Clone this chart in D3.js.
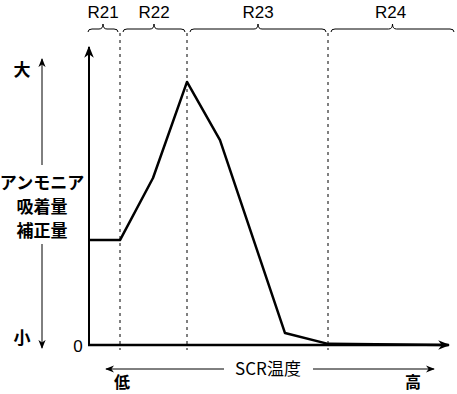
<!DOCTYPE html>
<html>
<head>
<meta charset="utf-8">
<script src="https://cdn.jsdelivr.net/npm/d3@7"></script>
<style>
  body { margin: 0; background: #fff; }
  text { font-family: "Noto Sans CJK JP", "Liberation Sans", sans-serif; fill: #000; }
</style>
</head>
<body>
<div></div>
<script>
const width = 457;
const height = 394;

// SCR temperature (arbitrary units) and ammonia adsorption correction (0-100)
const tempValues = [0, 31, 64, 98, 131, 196, 239, 359];
const corrValues = [36.8, 36.8, 58.6, 92.3, 71.9, 4.2, 0.4, 0];
const regionNames = ["R21", "R22", "R23", "R24"];
const regionBounds = [0, 31, 98, 239, 367];
const yLabelLines = ["アンモニア", "吸着量", "補正量"];

const x = d3.scaleLinear().domain([0, 360]).range([89, 449]);
const y = d3.scaleLinear().domain([0, 100]).range([345, 60]);

const svg = d3.select("div").append("svg")
  .attr("width", width)
  .attr("height", height);

const defs = svg.append("defs");
function marker(id, size) {
  defs.append("marker")
    .attr("id", id)
    .attr("viewBox", "0 0 10 10")
    .attr("refX", 9).attr("refY", 5)
    .attr("markerWidth", size).attr("markerHeight", size)
    .attr("markerUnits", "userSpaceOnUse")
    .attr("orient", "auto-start-reverse")
    .append("path")
    .attr("d", "M0,1 L10,5 L0,9 L3,5 Z")
    .attr("fill", "#000");
}
marker("arrowBig", 12);
marker("arrowSmall", 9);

// dashed region boundaries
svg.selectAll("line.bound")
  .data(regionBounds.slice(1, 4))
  .enter().append("line")
  .attr("class", "bound")
  .attr("x1", d => x(d)).attr("x2", d => x(d))
  .attr("y1", 33).attr("y2", 350)
  .attr("stroke", "#000")
  .attr("stroke-width", 1)
  .attr("stroke-dasharray", "3,4");

// braces over each region
function bracePath(x0, x1, yb) {
  const m = (x0 + x1) / 2;
  const h = 4;
  return `M${x0},${yb + 3} Q${x0},${yb} ${x0 + h},${yb} L${m - 4},${yb} Q${m},${yb} ${m},${yb - 5}` +
    ` Q${m},${yb} ${m + 4},${yb} L${x1 - h},${yb} Q${x1},${yb} ${x1},${yb + 3}`;
}
regionNames.forEach((name, i) => {
  const x0 = x(regionBounds[i]) + (i === 0 ? -1 : 3);
  const x1 = Math.min(x(regionBounds[i + 1]) - 2, 455);
  svg.append("path")
    .attr("d", bracePath(x0, x1, 29))
    .attr("fill", "none")
    .attr("stroke", "#000")
    .attr("stroke-width", 1);
  svg.append("text")
    .attr("x", (x0 + (i === 3 ? x(367) : x1)) / 2 + (i === 3 ? -3 : 0))
    .attr("y", 18)
    .attr("text-anchor", "middle")
    .style("font-family", "Liberation Sans, sans-serif")
    .attr("font-size", 17)
    .text(name);
});

// axes
svg.append("line")
  .attr("x1", x(0)).attr("x2", x(0))
  .attr("y1", y(0) + 1).attr("y2", 47)
  .attr("stroke", "#000").attr("stroke-width", 2)
  .attr("marker-end", "url(#arrowBig)");
svg.append("line")
  .attr("x1", x(0) - 1).attr("x2", 449)
  .attr("y1", y(0)).attr("y2", y(0))
  .attr("stroke", "#000").attr("stroke-width", 2.5)
  .attr("marker-end", "url(#arrowBig)");

// data line
svg.append("path")
  .datum(tempValues.map((t, i) => [t, corrValues[i]]))
  .attr("d", d3.line().x(d => x(d[0])).y(d => y(d[1])))
  .attr("fill", "none")
  .attr("stroke", "#000")
  .attr("stroke-width", 2.5)
  .attr("stroke-linejoin", "round");

svg.append("text")
  .attr("x", 78).attr("y", 352)
  .attr("text-anchor", "middle")
  .style("font-family", "Liberation Sans, sans-serif")
  .attr("font-size", 17)
  .text("0");

// y-side label with large/small arrows
svg.append("text").attr("x", 22).attr("y", 76)
  .attr("text-anchor", "middle").attr("font-size", 17).attr("font-weight", "bold").text("大");
svg.append("text").attr("x", 22).attr("y", 344)
  .attr("text-anchor", "middle").attr("font-size", 17).attr("font-weight", "bold").text("小");
svg.append("line")
  .attr("x1", 42).attr("x2", 42).attr("y1", 165).attr("y2", 59)
  .attr("stroke", "#000").attr("stroke-width", 1)
  .attr("marker-end", "url(#arrowSmall)");
svg.append("line")
  .attr("x1", 42).attr("x2", 42).attr("y1", 244).attr("y2", 348)
  .attr("stroke", "#000").attr("stroke-width", 1)
  .attr("marker-end", "url(#arrowSmall)");
svg.selectAll("text.ylab")
  .data(yLabelLines)
  .enter().append("text")
  .attr("class", "ylab")
  .attr("x", 42)
  .attr("y", (d, i) => 189 + i * 24)
  .attr("text-anchor", "middle")
  .attr("font-size", 17)
  .attr("font-weight", "bold")
  .text(d => d);

// x-side label with low/high arrows
svg.append("line")
  .attr("x1", 224).attr("x2", 106).attr("y1", 369).attr("y2", 369)
  .attr("stroke", "#000").attr("stroke-width", 1)
  .attr("marker-end", "url(#arrowSmall)");
svg.append("line")
  .attr("x1", 313).attr("x2", 434).attr("y1", 369).attr("y2", 369)
  .attr("stroke", "#000").attr("stroke-width", 1)
  .attr("marker-end", "url(#arrowSmall)");
svg.append("text").attr("x", 268).attr("y", 375)
  .attr("text-anchor", "middle").attr("font-size", 17).text("SCR温度");
svg.append("text").attr("x", 122).attr("y", 388)
  .attr("text-anchor", "middle").attr("font-size", 16).attr("font-weight", "bold").text("低");
svg.append("text").attr("x", 413).attr("y", 388)
  .attr("text-anchor", "middle").attr("font-size", 16).attr("font-weight", "bold").text("高");
</script>
</body>
</html>
